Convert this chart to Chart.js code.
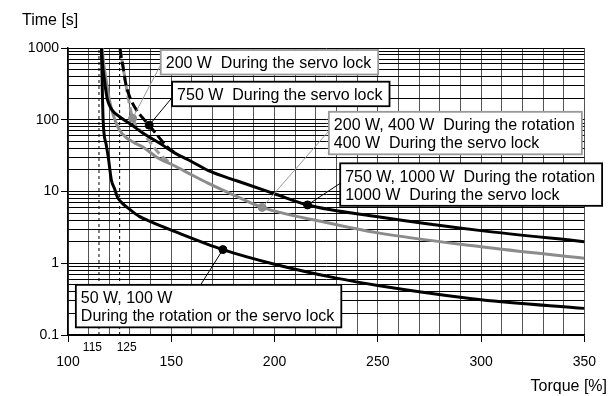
<!DOCTYPE html>
<html>
<head>
<meta charset="utf-8">
<script src="https://cdn.jsdelivr.net/npm/chart.js@4.4.1/dist/chart.umd.min.js"></script>
<style>
  html, body { margin: 0; padding: 0; background: #fff; }
</style>
</head>
<body>
<canvas id="chart" width="608" height="396"></canvas>
<script>
// Overload curves: torque (%) vs time (s)
// 50 W, 100 W  (rotation or servo lock)
const torqueA = [116.2, 117, 118.5, 119.5, 121, 122.5, 124, 126, 130, 134.5, 140, 150, 175, 200, 230, 250, 300, 350];
const timeA   = [1000, 100, 45, 30, 14.5, 11, 8.3, 7.0, 5.6, 4.5, 3.8, 2.9, 1.55, 0.97, 0.62, 0.49, 0.31, 0.235];
// 750 W, 1000 W rotation / 1000 W servo lock
const torqueB = [116.2, 116.7, 117.4, 118.2, 119, 120.5, 122.5, 125, 130, 136, 145, 152, 160, 168, 182, 200, 216, 250, 300, 350];
const timeB   = [1000, 600, 400, 270, 195, 150, 125, 110, 88, 66, 46, 34, 26, 19.5, 14, 9.3, 6.5, 4.45, 2.85, 2.0];
// 200 W, 400 W rotation / 400 W servo lock
const torqueC = [116.5, 117.3, 118.5, 119.6, 120.6, 121.5, 123, 124.9, 128, 132, 136.1, 143, 152, 160, 168, 180, 194, 225, 250, 300, 350];
const timeC   = [1000, 600, 350, 220, 160, 128, 95, 72, 57, 48, 42, 30, 22.5, 17, 13, 9, 6.0, 3.7, 2.65, 1.7, 1.17];
// 750 W servo lock (dashed black), joins curve B
const torqueD = [125.2, 125.6, 126.5, 128.1, 130.5, 133.7, 139.3, 143.2, 148, 152];
const timeD   = [1000, 800, 580, 305, 188, 130, 84, 61, 42, 34];
// 200 W servo lock (dashed grey), joins curve C
const torqueE = [125.2, 126.5, 128.1, 129.2, 131.3, 137, 144.1, 150];
const timeE   = [1000, 580, 300, 200, 105, 62, 34, 24];
// points the callouts point at
const markTorque = [131.3, 139.3, 194, 216, 175];
const markTime   = [105, 84, 6.0, 6.5, 1.55];
const markColor  = ['#8c8c8c', '#000', '#8c8c8c', '#000', '#000'];

// axes
const yDecades = [0.1, 1, 10, 100, 1000];
const xLabels = [100, 150, 200, 250, 300, 350];
const refTorque = [115, 125];

const FONT = '"Liberation Sans", Arial, Helvetica, sans-serif';
Chart.defaults.font.family = FONT;
Chart.defaults.color = '#000';

const pts = (xs, ys) => xs.map((x, i) => ({ x, y: ys[i] }));
const isDecade = (v) => yDecades.some(d => Math.abs(d - v) < 1e-9);

// callout boxes, anchored (top-left) in data units
const callouts = [
  { x: 144.9, y: 938, lines: ['200 W  During the servo lock'], color: '#999', mark: 0, anchor: [0, 0.6] },
  { x: 150.4, y: 339, lines: ['750 W  During the servo lock'], color: '#000', mark: 1, anchor: [0, 0.65] },
  { x: 226.3, y: 129, lines: ['200 W, 400 W  During the rotation', '400 W  During the servo lock'], color: '#999', mark: 2, anchor: [0, 0.45] },
  { x: 231.8, y: 24.7, lines: ['750 W, 1000 W  During the rotation', '1000 W  During the servo lock'], color: '#000', mark: 3, anchor: [0, 0.47] },
  { x: 103.8, y: 0.5, lines: ['50 W, 100 W', 'During the rotation or the servo lock'], color: '#000', mark: 4, anchor: [0.47, 0] }
];

const overlay = {
  id: 'overlay',
  afterDatasetsDraw(chart) {
    const { ctx, scales: { x, y } } = chart;
    ctx.save();
    // small 115 / 125 labels, pushed apart from their dashed lines
    ctx.fillStyle = '#000';
    ctx.font = '12px ' + FONT;
    ctx.textBaseline = 'middle';
    ctx.textAlign = 'right';
    ctx.fillText(String(refTorque[0]), x.getPixelForValue(refTorque[0]) + 3, 348);
    ctx.textAlign = 'left';
    ctx.fillText(String(refTorque[1]), x.getPixelForValue(refTorque[1]) - 3, 348);
    // axis titles
    ctx.font = '16px ' + FONT;
    ctx.textAlign = 'left';
    ctx.fillText('Time [s]', 22, 21);
    ctx.textAlign = 'right';
    ctx.fillText('Torque [%]', 607, 387);

    // callouts
    ctx.textAlign = 'left';
    ctx.textBaseline = 'alphabetic';
    callouts.forEach(c => {
      ctx.font = '16px ' + FONT;
      const left = x.getPixelForValue(c.x);
      const top = y.getPixelForValue(c.y);
      const w = Math.max(...c.lines.map(l => ctx.measureText(l).width)) + 12;
      const h = 24.5 + (c.lines.length - 1) * 18;
      const mx = x.getPixelForValue(markTorque[c.mark]);
      const my = y.getPixelForValue(markTime[c.mark]);
      ctx.strokeStyle = c.color;
      ctx.lineWidth = 1;
      ctx.beginPath();
      ctx.moveTo(mx, my);
      ctx.lineTo(left + c.anchor[0] * w, top + c.anchor[1] * h);
      ctx.stroke();
      ctx.fillStyle = '#fff';
      ctx.fillRect(left, top, w, h);
      ctx.lineWidth = 1.8;
      ctx.strokeRect(left, top, w, h);
      ctx.fillStyle = '#000';
      c.lines.forEach((l, i) => ctx.fillText(l, left + 5, top + 18.5 + i * 18));
    });
    ctx.restore();
  }
};

const curve = (data, color, dash, order) => ({
  data, borderColor: color, borderWidth: 3, borderDash: dash || [],
  pointRadius: 0, cubicInterpolationMode: 'monotone', fill: false, order
});

new Chart(document.getElementById('chart'), {
  type: 'line',
  data: {
    datasets: [
      curve(pts(torqueE, timeE), '#999', [8, 4], 6),
      curve(pts(torqueC, timeC), '#8c8c8c', null, 5),
      curve(pts(torqueD, timeD), '#000', [10, 4], 4),
      curve(pts(torqueB, timeB), '#000', null, 3),
      curve(pts(torqueA, timeA), '#000', null, 2),
      ...refTorque.map(v => ({
        data: [{ x: v, y: 0.1 }, { x: v, y: 1000 }],
        borderColor: '#000', borderWidth: 1, borderDash: [3, 3], pointRadius: 0, order: 7
      })),
      {
        type: 'scatter',
        data: pts(markTorque, markTime),
        pointRadius: 4, pointBackgroundColor: markColor, pointBorderColor: markColor,
        showLine: false, order: 1
      }
    ]
  },
  options: {
    responsive: false,
    animation: false,
    layout: { padding: { top: 48, right: 18, left: 0, bottom: 0 } },
    plugins: { legend: { display: false }, tooltip: { enabled: false } },
    scales: {
      x: {
        type: 'linear',
        min: 100,
        max: 350,
        afterFit: (axis) => { axis.height = 61; },
        border: { color: '#000', width: 1.5 },
        grid: {
          color: '#555',
          lineWidth: 1,
          tickLength: 7,
          tickColor: (c) => xLabels.includes(c.tick.value) ? '#000' : 'rgba(0,0,0,0)'
        },
        ticks: {
          stepSize: 10,
          autoSkip: false,
          maxRotation: 0,
          padding: 12,
          font: { size: 14 },
          callback: (v) => xLabels.includes(v) ? String(v) : ''
        }
      },
      y: {
        type: 'logarithmic',
        min: 0.1,
        max: 1000,
        afterFit: (axis) => { axis.width = 68; },
        afterBuildTicks: (axis) => {
          const ticks = [];
          yDecades.forEach((d, i) => {
            ticks.push({ value: d });
            if (i < yDecades.length - 1) {
              for (let m = 2; m <= 9; m++) ticks.push({ value: +(d * m).toPrecision(3) });
            }
          });
          axis.ticks = ticks;
        },
        border: { color: '#000', width: 1.5 },
        grid: {
          color: '#000',
          lineWidth: 1,
          tickLength: 7,
          tickColor: (c) => isDecade(c.tick.value) ? '#000' : 'rgba(0,0,0,0)'
        },
        ticks: {
          autoSkip: false,
          padding: 2,
          font: { size: 14 },
          callback: (v) => isDecade(v) ? String(v) : ''
        }
      }
    }
  },
  plugins: [overlay]
});
</script>
</body>
</html>
